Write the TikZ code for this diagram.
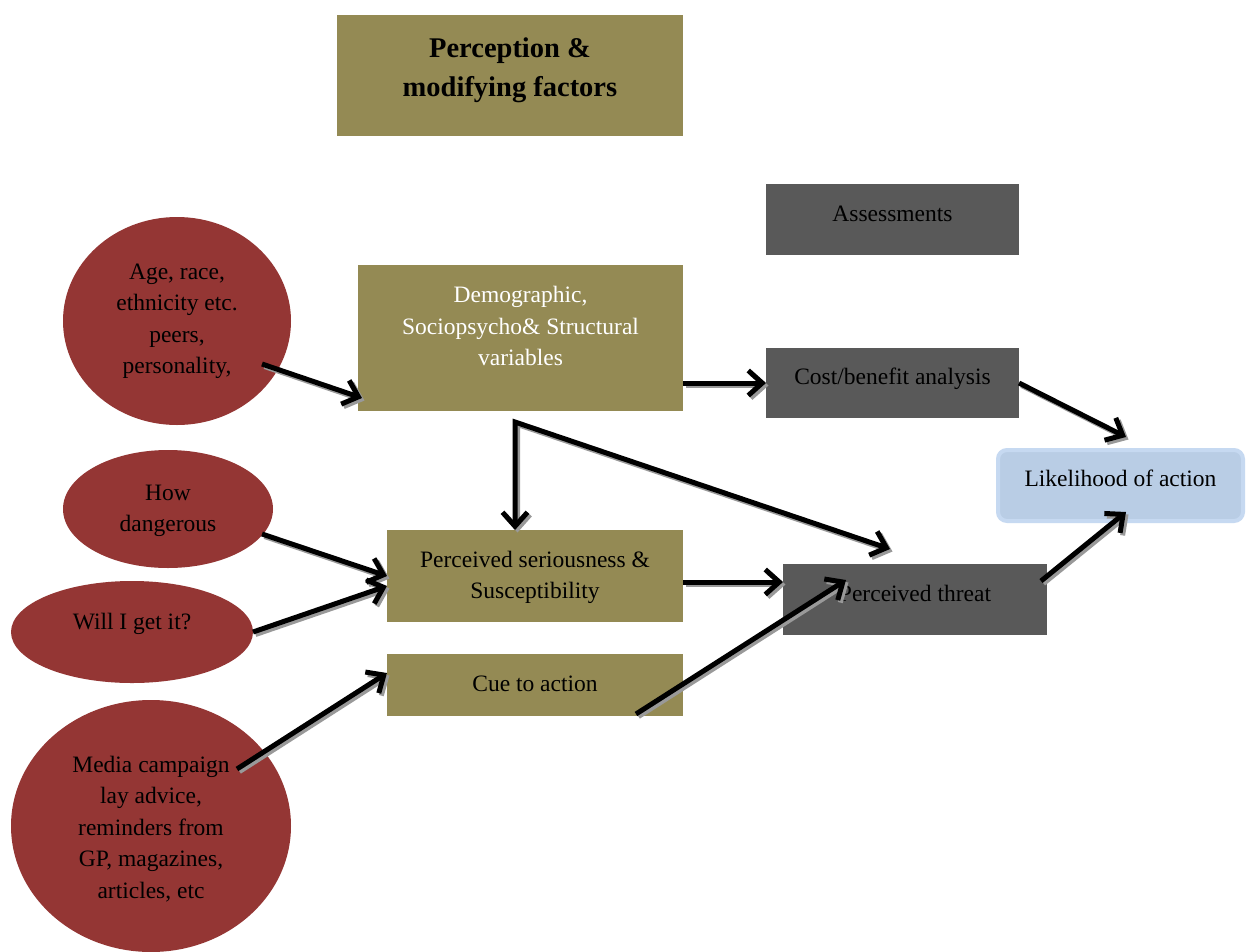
\documentclass[tikz,border=0pt]{standalone}
\usepackage{fontspec}
\setmainfont{Liberation Serif}
\usetikzlibrary{arrows.meta,calc,shapes.geometric}
\definecolor{olivebox}{HTML}{948A54}
\definecolor{darkbox}{HTML}{595959}
\definecolor{redell}{HTML}{943634}
\definecolor{lightblue}{HTML}{B9CDE5}
\definecolor{lightblueb}{HTML}{C6D9F1}
\begin{document}
\begin{tikzpicture}[x=1pt,y=-1pt,
  txt/.style={font=\fontsize{23.5}{31.5}\selectfont, align=center, inner sep=0pt},
  ttl/.style={font=\fontsize{28.5}{39}\selectfont\bfseries, align=center, inner sep=0pt},
  obox/.style={rectangle, fill=olivebox, inner sep=0pt, outer sep=0pt},
  gbox/.style={rectangle, fill=darkbox, inner sep=0pt, outer sep=0pt},
  bbox/.style={rectangle, rounded corners=9pt, fill=lightblue, draw=lightblueb, line width=4pt, inner sep=0pt, outer sep=0pt},
  ell/.style={ellipse, fill=redell, inner sep=0pt, outer sep=0pt},
  tipx/.tip={Straight Barb[length=14pt,width=25pt]},
  arr/.style={line width=5pt, black, -tipx,
    preaction={draw=black!40, line width=5pt, -tipx, transform canvas={shift={(2.5,2.5)}}}},
  arrtwo/.style={line width=5pt, black, tipx-tipx,
    preaction={draw=black!40, line width=5pt, tipx-tipx, transform canvas={shift={(2.5,2.5)}}}},
]
\useasboundingbox[fill=white] (0,0) rectangle (1251,951);

% boxes
\node[obox, minimum width=346pt, minimum height=121pt,
  label={[ttl,yshift=5pt]center:{Perception \&\\modifying factors}}] (title) at (510,75.5) {};
\node[gbox, minimum width=253pt, minimum height=71pt,
  label={[txt,yshift=5.5pt]center:Assessments}] (assess) at (892.5,219.5) {};
\node[obox, minimum width=325pt, minimum height=146pt,
  label={[txt,text=white,yshift=12pt]center:{Demographic,\\Sociopsycho\& Structural\\variables}}] (demo) at (520.5,338) {};
\node[gbox, minimum width=253pt, minimum height=70pt,
  label={[txt,yshift=4pt]center:Cost/benefit analysis}] (cost) at (892.5,383) {};
\node[bbox, minimum width=245pt, minimum height=71pt,
  label={[txt,yshift=7.5pt]center:Likelihood of action}] (like) at (1120.5,485.5) {};
\node[obox, minimum width=296pt, minimum height=92pt,
  label={[txt,yshift=-1.5pt]center:{Perceived seriousness \&\\Susceptibility}}] (sev) at (535,576) {};
\node[obox, minimum width=296pt, minimum height=62pt,
  label={[txt,yshift=1pt]center:Cue to action}] (cue) at (535,685) {};
\node[gbox, minimum width=264pt, minimum height=71pt,
  label={[txt,yshift=6.5pt]center:Perceived threat}] (threat) at (915,599.5) {};

% ellipses
\node[ell, minimum width=228pt, minimum height=208pt,
  label={[txt,yshift=-0.5pt]center:{Age, race,\\ethnicity etc.\\peers,\\personality,}}] (age) at (177,321) {};
\node[ell, minimum width=210pt, minimum height=118pt,
  label={[txt,yshift=-2pt]center:{How\\dangerous}}] (dang) at (168,509) {};
\node[ell, minimum width=242pt, minimum height=102pt,
  label={[txt,yshift=8pt]center:{Will I get it?}}] (get) at (132,632) {};
\node[ell, minimum width=280pt, minimum height=252pt,
  label={[txt,yshift=-3pt]center:{Media campaign\\lay advice,\\reminders from\\GP, magazines,\\articles, etc}}] (media) at (151,826) {};

% connector helper points
\coordinate (split) at (515,422);
\coordinate (thr) at ($(threat.north)+(-25,-15)$);

% arrows
\draw[arr] ($(age.center)+(85,43)$) -- ($(demo.south west)+(4,-13)$);
\draw[arr] (demo.east |- cost.west) -- (cost.west);
\draw[arr] (cost.east) -- ($(like.north)+(5.5,-13)$);
\draw[arrtwo] (split |- sev.north) -- (split) -- (thr);
\draw[arr] ($(dang.center)+(94,25)$) -- (sev.west);
\draw[arr] (get.east) -- ($(sev.west)+(0,10)$);
\draw[arr] ($(sev.east)+(0,6)$) -- ($(threat.west)+(0,-17.5)$);
\draw[arr] ($(media.center)+(86,-57)$) -- ($(cue.west)+(0,-12)$);
\draw[arr] ($(cue.south)+(101,-2)$) -- ($(threat.center)+(-69,-19.5)$);
\draw[arr] ($(threat.east)+(-6,-18.5)$) -- ($(like.south)+(5.5,-9)$);
\end{tikzpicture}
\end{document}
